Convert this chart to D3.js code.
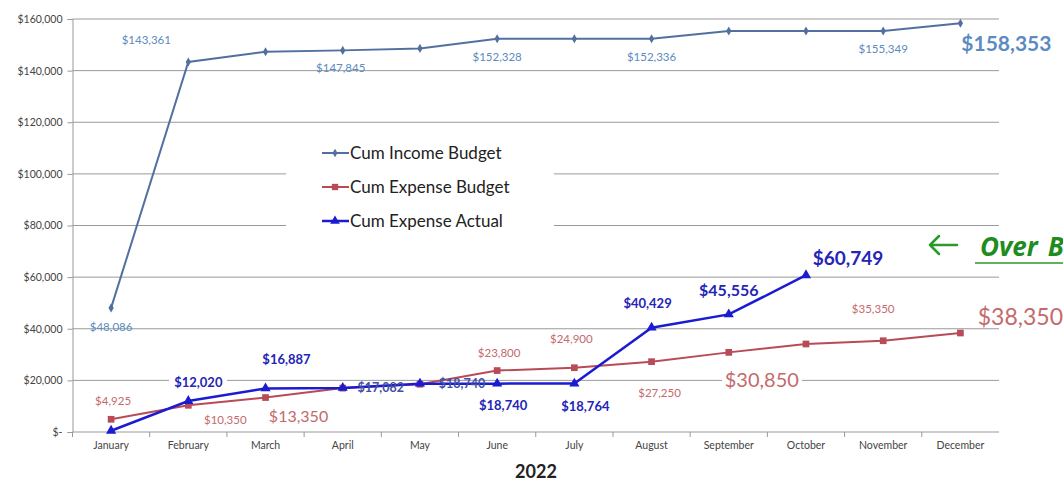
<!DOCTYPE html>
<html>
<head>
<meta charset="utf-8">
<script src="https://d3js.org/d3.v7.min.js"></script>
<style>
  body { margin: 0; background: #fff; overflow: hidden; }
  text { font-family: Lato, "Open Sans", sans-serif; }
</style>
</head>
<body>
<svg id="chart"></svg>
<script>
// data
var months = ["January", "February", "March", "April", "May", "June", "July",
  "August", "September", "October", "November", "December"];
var incomeBudget = [48086, 143361, 147300, 147845, 148600, 152328, 152330, 152336, 155349, 155349, 155349, 158353];
var expenseBudget = [4925, 10350, 13350, 17000, 18500, 23800, 24900, 27250, 30850, 34100, 35350, 38350];
var expenseActual = [500, 12020, 16887, 17082, 18740, 18740, 18764, 40429, 45556, 60749];
var yTicks = [0, 20000, 40000, 60000, 80000, 100000, 120000, 140000, 160000];
var seriesNames = ["Cum Income Budget", "Cum Expense Budget", "Cum Expense Actual"];

// which points get a value label, and where it sits (offset from the point, font size)
var incomeLabels = [
  {i: 0, dx: 0, dy: 19, size: 11.5},
  {i: 1, dx: -42, dy: -22, size: 11.5},
  {i: 3, dx: -2, dy: 18, size: 11.5},
  {i: 5, dx: 0, dy: 18, size: 11.5},
  {i: 7, dx: 0, dy: 18, size: 11.5},
  {i: 10, dx: 0, dy: 18, size: 11.5},
  {i: 11, dx: 46, dy: 20, size: 21, bold: true}
];
var budgetLabels = [
  {i: 0, dx: 2, dy: -18, size: 11.5},
  {i: 1, dx: 37, dy: 15, size: 11.5},
  {i: 2, dx: 33, dy: 19, size: 16},
  {i: 5, dx: 2, dy: -18, size: 11.5},
  {i: 6, dx: -3, dy: -29, size: 11.5},
  {i: 7, dx: 8, dy: 31, size: 11.5},
  {i: 8, dx: 33, dy: 28, size: 20},
  {i: 10, dx: -10, dy: -32, size: 11.5},
  {i: 11, dx: 60, dy: -16, size: 23}
];
var actualLabels = [
  {i: 1, dx: 10, dy: -19, size: 13, bold: true},
  {i: 2, dx: 21, dy: -29, size: 13, bold: true},
  {i: 3, dx: 38, dy: 0, size: 12.5, bold: true, dim: true},
  {i: 4, dx: 42, dy: 0, size: 12.5, bold: true, dim: true},
  {i: 5, dx: 6, dy: 22, size: 13, bold: true},
  {i: 6, dx: 11, dy: 23, size: 13, bold: true},
  {i: 7, dx: -4, dy: -24, size: 13, bold: true},
  {i: 8, dx: 0, dy: -24, size: 16, bold: true},
  {i: 9, dx: 42, dy: -17, size: 19, bold: true}
];

var width = 1063, height = 482;
var plotLeft = 72.5, plotRight = 999, plotTop = 19, plotBottom = 432;

var svg = d3.select("#chart").attr("width", width).attr("height", height);

var x = d3.scaleBand().domain(months).range([plotLeft, plotRight]);
var cx = function(i) { return x(months[i]) + x.bandwidth() / 2; };
var y = d3.scaleLinear().domain([0, 160000]).range([plotBottom, plotTop]);
var fmt = d3.format("$,");

var colIncome = "#52709f", colBudget = "#b84b57", colActual = "#1b1bd2";
var txtIncome = "#5b8bc0", txtBudget = "#c46a6c", txtActual = "#2424b8";

// gridlines
svg.append("g").selectAll("line")
  .data(yTicks.slice(1))
  .join("line")
    .attr("x1", plotLeft).attr("x2", plotRight)
    .attr("y1", d => y(d)).attr("y2", d => y(d))
    .attr("stroke", "#9a9a9a").attr("stroke-width", 1);

// y axis
var yAxis = svg.append("g")
  .attr("transform", `translate(${plotLeft},0)`)
  .call(d3.axisLeft(y).tickValues(yTicks).tickSize(5)
    .tickFormat(d => d === 0 ? "$-" : fmt(d)));
yAxis.select(".domain").attr("stroke", "#999");
yAxis.selectAll(".tick line").attr("stroke", "#999");
yAxis.selectAll("text").attr("font-size", 10.5).attr("fill", "#444").attr("x", -10);

// x axis
var xAxis = svg.append("g")
  .attr("transform", `translate(0,${plotBottom})`)
  .call(d3.axisBottom(x).tickSize(0).tickPadding(10));
xAxis.select(".domain").attr("stroke", "#999").attr("d", `M${plotLeft},0H${plotRight}`);
xAxis.selectAll("text").attr("font-size", 10.5).attr("fill", "#444");
// category separator ticks
svg.append("g").selectAll("line")
  .data(months)
  .join("line")
    .attr("x1", d => x(d)).attr("x2", d => x(d))
    .attr("y1", plotBottom).attr("y2", plotBottom + 5)
    .attr("stroke", "#999");

svg.append("text")
  .attr("x", 536).attr("y", 478)
  .attr("text-anchor", "middle")
  .attr("font-size", 18).attr("font-weight", "bold").attr("fill", "#222")
  .text("2022");

// legend box (hides the gridlines behind it)
var legend = svg.append("g").attr("transform", "translate(286,136)");
legend.append("rect").attr("width", 268).attr("height", 104).attr("fill", "#fff");
var legendColors = [colIncome, colBudget, colActual];
seriesNames.forEach(function(name, k) {
  var g = legend.append("g").attr("transform", `translate(36,${17 + k * 34})`);
  g.append("line").attr("x1", 0).attr("x2", 27)
    .attr("stroke", legendColors[k]).attr("stroke-width", k === 2 ? 2.5 : 2);
  g.append("path")
    .attr("transform", "translate(13,0)")
    .attr("d", d3.symbol()
      .type(k === 0 ? d3.symbolDiamond : k === 1 ? d3.symbolSquare : d3.symbolTriangle)
      .size(k === 0 ? 22 : 40))
    .attr("fill", legendColors[k]);
  g.append("text").attr("x", 28).attr("dy", "0.35em")
    .attr("font-size", 17).attr("fill", "#222").text(name);
});

var line = d3.line().x((d, i) => cx(i)).y(d => y(d));

function drawSeries(values, color, widthPx, symbolType, symSize) {
  svg.append("path")
    .datum(values)
    .attr("d", line)
    .attr("fill", "none")
    .attr("stroke", color)
    .attr("stroke-width", widthPx);
  svg.append("g").selectAll("path")
    .data(values)
    .join("path")
      .attr("transform", (d, i) => `translate(${cx(i)},${y(d)})`)
      .attr("d", d3.symbol().type(symbolType).size(symSize))
      .attr("fill", color);
}

function drawLabels(values, labels, color) {
  svg.append("g").selectAll("text")
    .data(labels)
    .join("text")
      .attr("x", d => cx(d.i) + d.dx)
      .attr("y", d => y(values[d.i]) + d.dy)
      .attr("dy", "0.35em")
      .attr("text-anchor", "middle")
      .attr("font-size", d => d.size)
      .attr("font-weight", d => d.bold ? "bold" : "normal")
      .attr("fill", d => d.dim ? "#4050a4" : color)
      .text(d => fmt(values[d.i]));
}

// white patches behind labels that cut the gridlines in the original
[[762, 380, 80], [198, 381, 58]].forEach(function(p) {
  svg.append("rect").attr("x", p[0] - p[2] / 2).attr("y", p[1] - 4)
    .attr("width", p[2]).attr("height", 8).attr("fill", "#fff");
});

drawSeries(incomeBudget, colIncome, 2, d3.symbolDiamond, 24);
drawSeries(expenseBudget, colBudget, 2, d3.symbolSquare, 45);
drawSeries(expenseActual, colActual, 2.5, d3.symbolTriangle, 45);

drawLabels(incomeBudget, incomeLabels, txtIncome);
drawLabels(expenseBudget, budgetLabels, txtBudget);
drawLabels(expenseActual, actualLabels, txtActual);

// "Over budget" callout on the right, running off the edge as in the original
var note = svg.append("g").attr("stroke", "#2a9a2a").attr("stroke-width", 2.5)
  .attr("fill", "none").attr("stroke-linecap", "round");
note.append("path").attr("d", "M930,245H957M930,245L939,236M930,245L939,254");
var over = svg.append("text").attr("x", 980).attr("y", 247).attr("dy", "0.35em")
  .style("font-family", "'Open Sans', sans-serif")
  .attr("font-size", 26).attr("font-weight", "bold").attr("font-style", "italic")
  .attr("fill", "#1e8c1e");
over.append("tspan").text("Over");
over.append("tspan").attr("dx", 10).text("Budget");
svg.append("line").attr("x1", 975).attr("x2", 1063).attr("y1", 263).attr("y2", 263)
  .attr("stroke", "#2a9a2a").attr("stroke-width", 1.5);
</script>
</body>
</html>
